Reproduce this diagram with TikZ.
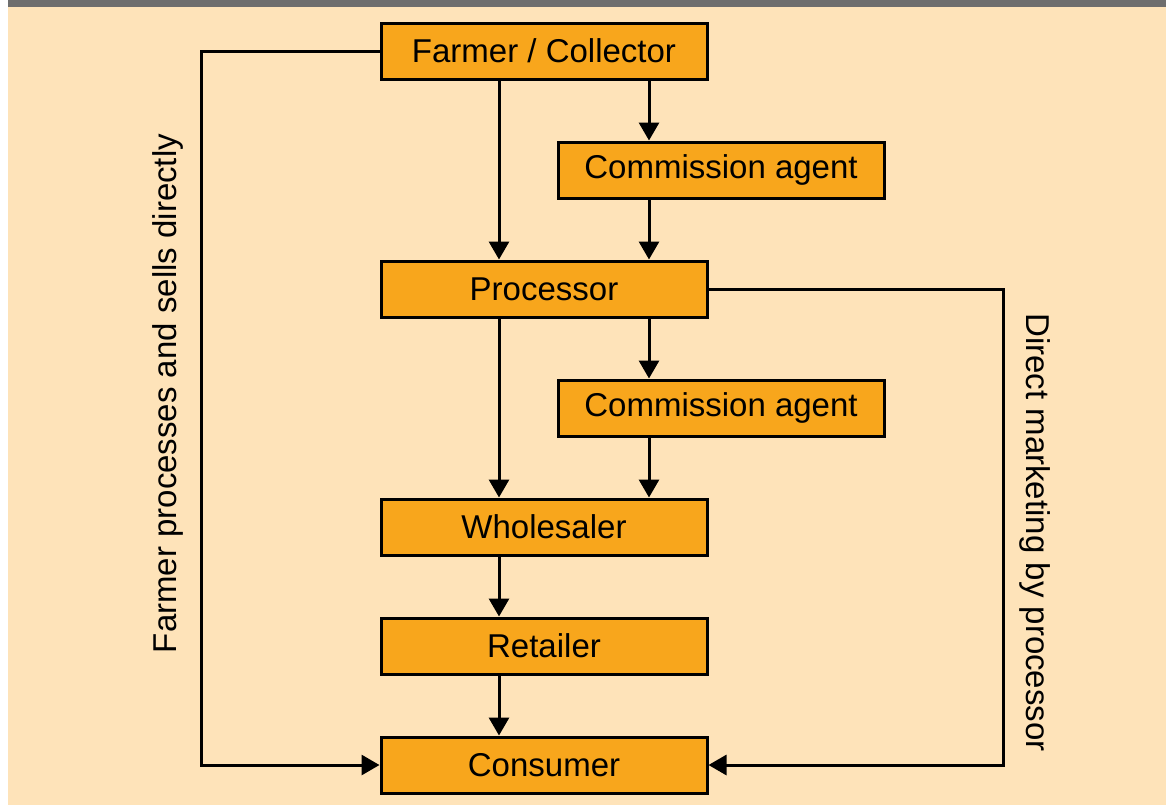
\documentclass[tikz,border=0pt]{standalone}
\usepackage{fontspec}
\setmainfont{Liberation Sans}
\definecolor{Cream}{RGB}{254,227,185}
\definecolor{Amber}{RGB}{248,166,28}
\definecolor{BarGray}{RGB}{110,110,110}
\usetikzlibrary{positioning,arrows.meta,calc}

\begin{document}
\begin{tikzpicture}[
      node distance=30pt,
      stage/.style={rectangle, draw=black, fill=Amber, line width=1.5pt, minimum width=163pt, minimum height=28pt, inner sep=0pt, font=\fontsize{16.5}{19}\selectfont},
      flow/.style={line width=1.5pt, -{Triangle[length=9pt,width=10pt]}},
      link/.style={line width=1.5pt},
      sidetext/.style={font=\fontsize{16.5}{19}\selectfont, inner sep=0pt}
    ]
      % page
      \useasboundingbox (0,0) rectangle (583pt,-402.5pt);
      \fill[white] (0,0) rectangle (4pt,-402.5pt);
      \fill[Cream] (4pt,0) rectangle (583pt,-402.5pt);
      \fill[BarGray] (4pt,0) rectangle (583pt,-3.5pt);

      % supply chain
      \node[stage] (farmer) at (272pt,-25.5pt) {Farmer / Collector};
      \node[stage, below=of farmer, xshift=88.5pt] (agent1) {Commission agent};
      \node[stage, below=of agent1, xshift=-88.5pt] (processor) {Processor};
      \node[stage, below=of processor, xshift=88.5pt] (agent2) {Commission agent};
      \node[stage, below=of agent2, xshift=-88.5pt] (wholesaler) {Wholesaler};
      \node[stage, below=of wholesaler] (retailer) {Retailer};
      \node[stage, below=of retailer] (consumer) {Consumer};

      \draw[flow] ([xshift=-22.5pt]farmer.south) -- ([xshift=-22.5pt]processor.north);
      \draw[flow] ([xshift=52.5pt]farmer.south) -- ([xshift=52.5pt]farmer.south |- agent1.north);
      \draw[flow] ([xshift=52.5pt]farmer.south |- agent1.south) -- ([xshift=52.5pt]processor.north);
      \draw[flow] ([xshift=-22.5pt]processor.south) -- ([xshift=-22.5pt]wholesaler.north);
      \draw[flow] ([xshift=52.5pt]processor.south) -- ([xshift=52.5pt]processor.south |- agent2.north);
      \draw[flow] ([xshift=52.5pt]processor.south |- agent2.south) -- ([xshift=52.5pt]wholesaler.north);
      \draw[flow] ([xshift=-22.5pt]wholesaler.south) -- ([xshift=-22.5pt]retailer.north);
      \draw[flow] ([xshift=-22.5pt]retailer.south) -- ([xshift=-22.5pt]consumer.north);

      % direct routes
      \coordinate (direct) at ([xshift=-89pt]farmer.west);
      \coordinate (market) at ([xshift=147.5pt]processor.east);
      \draw[flow] (farmer.west) -- (direct) |- (consumer.west);
      \draw[flow] (processor.east) -- (market) |- (consumer.east);

      \node[sidetext, rotate=90] (directlabel) at (84pt,-196.75pt) {Farmer processes and sells directly};
      \node[sidetext, rotate=-90] (marketlabel) at (517.5pt,-266.25pt) {Direct marketing by processor};
    \end{tikzpicture}
\end{document}
